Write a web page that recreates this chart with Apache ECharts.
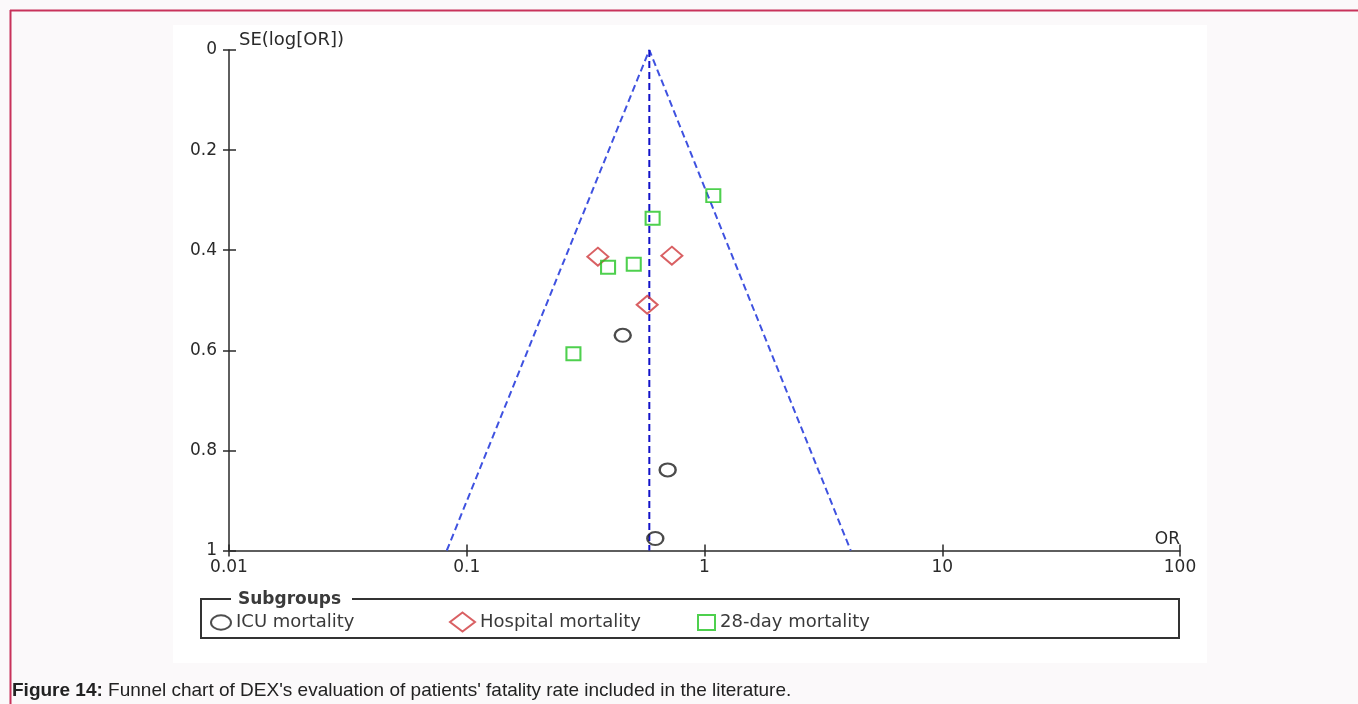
<!DOCTYPE html>
<html>
<head>
<meta charset="utf-8">
<script src="https://cdn.jsdelivr.net/npm/echarts@6/dist/echarts.min.js"></script>
<style>
html,body{margin:0;padding:0;background:#fbf9fa;}
#c{width:1358px;height:704px;}
</style>
</head>
<body>
<div id="c"></div>
<script>
// ---- data ----
const seriesNames = ['ICU mortality', 'Hospital mortality', '28-day mortality'];
const icuOR = [0.453, 0.700, 0.621];
const icuSE = [0.570, 0.839, 0.976];
const hospOR = [0.356, 0.729, 0.574];
const hospSE = [0.413, 0.411, 0.509];
const dayOR = [1.089, 0.605, 0.393, 0.504, 0.281];
const daySE = [0.291, 0.336, 0.434, 0.428, 0.607];
const funnelOR = [0.0824, 0.586, 4.12];
const funnelSE = [1, 0, 1];
const centerOR = [0.586, 0.586];
const centerSE = [0, 1];
const xTickLabels = ['0.01', '0.1', '1', '10', '100'];
const yTickLabels = ['0', '0.2', '0.4', '0.6', '0.8', '1'];

function pairs(xs, ys) { return xs.map((x, i) => [x, ys[i]]); }

const chart = echarts.init(document.getElementById('c'), null, {renderer: 'canvas'});
const FONT = 'DejaVu Sans';
const ellipse = 'path://M0,5a7,5 0 1,0 14,0a7,5 0 1,0 -14,0z';
const AX = '#2a2a2a';

const xBase = {
  type: 'log', logBase: 10, min: 0.01, max: 100, gridIndex: 0,
  splitLine: {show: false}, minorTick: {show: false}
};
const yBase = {
  type: 'value', inverse: true, min: 0, max: 1, interval: 0.2,
  splitLine: {show: false}
};

const option = {
  backgroundColor: '#fbf9fa',
  animation: false,
  grid: {left: 229, right: 178, top: 50, bottom: 153.5, containLabel: false},
  xAxis: [
    Object.assign({}, xBase, {
      show: true, position: 'bottom',
      axisLine: {onZero: false, lineStyle: {color: AX, width: 1.5}},
      axisTick: {show: false},
      axisLabel: {
        margin: 9, color: '#2a2a2a', fontFamily: FONT, fontSize: 17,
        formatter: v => xTickLabels[Math.round(Math.log10(v)) + 2]
      }
    }),
    Object.assign({}, xBase, {
      show: true, position: 'bottom', offset: -6,
      axisLine: {show: false, onZero: false},
      axisTick: {show: true, inside: false, length: 12, lineStyle: {color: AX, width: 1.5}},
      axisLabel: {show: false}
    })
  ],
  yAxis: [
    Object.assign({}, yBase, {
      show: true, position: 'left',
      axisLine: {onZero: false, lineStyle: {color: AX, width: 1.5}},
      axisTick: {show: false},
      axisLabel: {
        margin: 12, color: '#2a2a2a', fontFamily: FONT, fontSize: 17,
        formatter: v => yTickLabels[Math.round(v / 0.2)]
      }
    }),
    Object.assign({}, yBase, {
      show: true, position: 'left', offset: -7,
      axisLine: {show: false, onZero: false},
      axisTick: {show: true, inside: false, length: 13, lineStyle: {color: AX, width: 1.5}},
      axisLabel: {show: false}
    })
  ],
  legend: [
    {data: [{name: seriesNames[0], icon: ellipse}], left: 210, top: 613.5, padding: 0,
     itemWidth: 20, itemHeight: 15, selectedMode: false,
     itemStyle: {color: 'transparent', borderColor: '#222', borderWidth: 2},
     textStyle: {fontFamily: FONT, fontSize: 18, color: '#3a3a3a'}},
    {data: [{name: seriesNames[1], icon: 'diamond'}], left: 449, top: 611.5, padding: 0,
     itemWidth: 25, itemHeight: 19, selectedMode: false,
     itemStyle: {color: 'transparent', borderColor: '#d0383c', borderWidth: 2},
     textStyle: {fontFamily: FONT, fontSize: 18, color: '#3a3a3a'}},
    {data: [{name: seriesNames[2], icon: 'rect'}], left: 697, top: 613.5, padding: 0,
     itemWidth: 17, itemHeight: 15, selectedMode: false,
     itemStyle: {color: 'transparent', borderColor: '#22c422', borderWidth: 2},
     textStyle: {fontFamily: FONT, fontSize: 18, color: '#3a3a3a'}}
  ],
  graphic: [
    {type: 'rect', z: -10, silent: true, shape: {x: 173, y: 25, width: 1034, height: 638}, style: {fill: '#ffffff'}},
    {type: 'line', z: -5, silent: true, shape: {x1: 10, y1: 10.5, x2: 1358, y2: 10.5}, style: {stroke: '#c8325a', lineWidth: 2}},
    {type: 'line', z: -5, silent: true, shape: {x1: 10.5, y1: 10, x2: 10.5, y2: 704}, style: {stroke: '#c8325a', lineWidth: 2}},
    {type: 'rect', z: 1, silent: true, shape: {x: 201, y: 599, width: 978, height: 39},
     style: {fill: 'transparent', stroke: '#333', lineWidth: 2}},
    {type: 'rect', z: 2, silent: true, shape: {x: 231, y: 592, width: 121, height: 14}, style: {fill: '#ffffff'}},
    {type: 'text', z: 3, silent: true, x: 238, y: 600,
     style: {text: 'Subgroups', fontFamily: FONT, fontWeight: 'bold', fontSize: 17, fill: '#3a3a3a', verticalAlign: 'middle', align: 'left'}},
    {type: 'text', z: 3, silent: true, x: 239, y: 49,
     style: {text: 'SE(log[OR])', fontFamily: FONT, fontSize: 18, fill: '#2a2a2a', verticalAlign: 'bottom', align: 'left'}},
    {type: 'text', z: 3, silent: true, x: 1180, y: 548,
     style: {text: 'OR', fontFamily: FONT, fontSize: 17, fill: '#2a2a2a', verticalAlign: 'bottom', align: 'right'}},
    {type: 'text', z: 3, silent: true, x: 12, y: 691,
     style: {
       text: '{b|Figure 14:} Funnel chart of DEX\'s evaluation of patients\' fatality rate included in the literature.',
       fontFamily: 'Liberation Sans', fontSize: 19, fill: '#222', verticalAlign: 'middle', align: 'left',
       rich: {b: {fontFamily: 'Liberation Sans', fontSize: 19, fontWeight: 'bold', fill: '#222'}}
     }}
  ],
  series: [
    {type: 'line', name: 'funnel', xAxisIndex: 0, yAxisIndex: 0, data: pairs(funnelOR, funnelSE),
     symbol: 'none', silent: true, z: 3,
     lineStyle: {color: '#3f52e0', width: 2, type: [7, 4]}},
    {type: 'line', name: 'center', xAxisIndex: 0, yAxisIndex: 0, data: pairs(centerOR, centerSE),
     symbol: 'none', silent: true, z: 3,
     lineStyle: {color: '#1212c8', width: 2, type: [7, 4]}},
    {type: 'scatter', name: seriesNames[0], xAxisIndex: 0, yAxisIndex: 0, data: pairs(icuOR, icuSE),
     symbol: ellipse, symbolSize: [16, 13], z: 5,
     itemStyle: {color: 'transparent', borderColor: '#1e1e1e', borderWidth: 2.2}},
    {type: 'scatter', name: seriesNames[1], xAxisIndex: 0, yAxisIndex: 0, data: pairs(hospOR, hospSE),
     symbol: 'diamond', symbolSize: [21, 18], z: 5,
     itemStyle: {color: 'transparent', borderColor: '#d0383c', borderWidth: 2}},
    {type: 'scatter', name: seriesNames[2], xAxisIndex: 0, yAxisIndex: 0, data: pairs(dayOR, daySE),
     symbol: 'rect', symbolSize: [14, 13], z: 5,
     itemStyle: {color: 'transparent', borderColor: '#22c422', borderWidth: 2}}
  ]
};
chart.setOption(option);
</script>
</body>
</html>
